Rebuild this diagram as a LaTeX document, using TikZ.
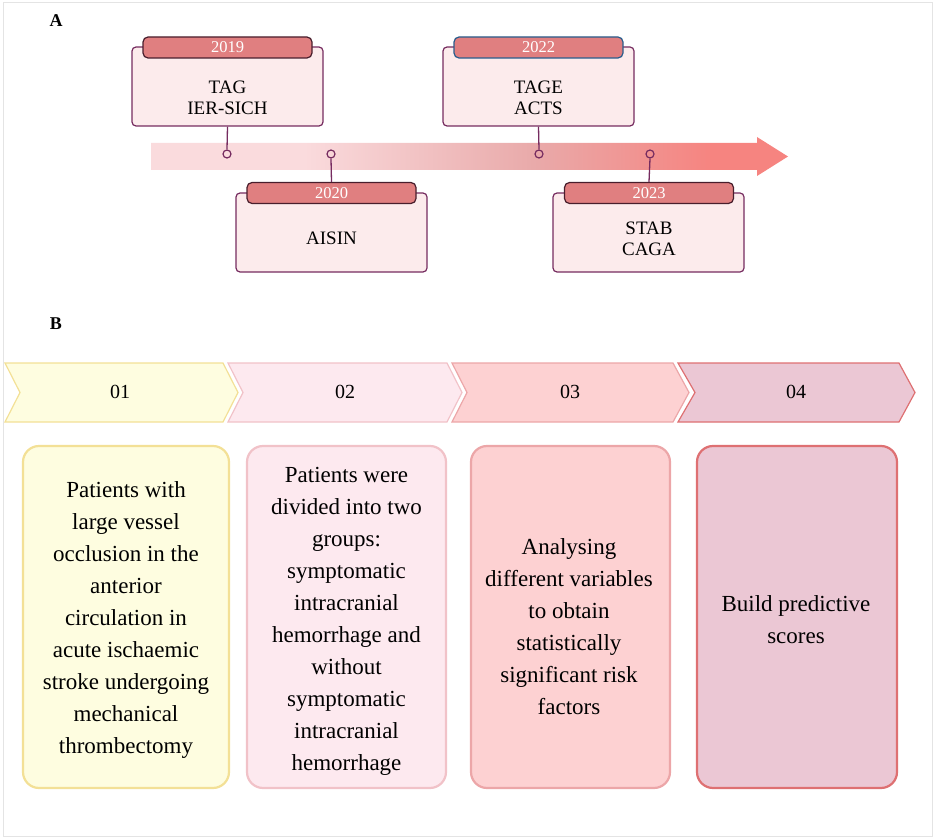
\documentclass[tikz,border=0pt]{standalone}
\usepackage{fontspec}
\setmainfont{Liberation Serif}
\definecolor{frame}{RGB}{228,228,228}
\definecolor{bandA}{RGB}{250,219,221}
\definecolor{bandB}{RGB}{233,170,170}
\definecolor{bandC}{RGB}{246,132,128}
\definecolor{tlborder}{RGB}{118,44,96}
\definecolor{tlfill}{RGB}{252,235,236}
\definecolor{tabfill}{RGB}{224,127,128}
\definecolor{tabborder}{RGB}{72,30,44}
\definecolor{tabblue}{RGB}{40,92,140}
\definecolor{fillA}{RGB}{254,253,224}
\definecolor{drawA}{RGB}{243,224,150}
\definecolor{fillB}{RGB}{253,233,239}
\definecolor{drawB}{RGB}{241,194,200}
\definecolor{fillC}{RGB}{253,209,210}
\definecolor{drawC}{RGB}{236,166,168}
\definecolor{fillD}{RGB}{235,199,212}
\definecolor{drawD}{RGB}{222,112,114}
\pgfdeclarehorizontalshading{bandshade}{100bp}{color(0bp)=(bandA); color(37bp)=(bandA); color(55bp)=(bandB); color(69bp)=(bandC); color(100bp)=(bandC)}
\begin{document}
\begin{tikzpicture}[x=1pt,y=-1pt,
  tlbox/.style={draw=tlborder, fill=tlfill, rounded corners=4pt, line width=1.2pt, minimum width=191pt, minimum height=79pt, inner sep=0pt},
  tab/.style={draw=tabborder, fill=tabfill, rounded corners=5pt, line width=1.2pt, minimum width=169pt, minimum height=21pt, inner sep=0pt, text=white, font=\fontsize{16.5}{18}\selectfont},
  tltext/.style={align=center, inner sep=0pt, font=\fontsize{19}{21}\selectfont},
  dot/.style={circle, draw=tlborder, line width=1.2pt, minimum size=8pt, inner sep=0pt},
  conn/.style={draw=tlborder, line width=1.3pt},
  chevtext/.style={inner sep=0pt, font=\fontsize{20}{22}\selectfont},
  card/.style={rounded corners=16pt, line width=2.2pt, minimum width=200pt, minimum height=342pt, inner sep=0pt},
  cardtext/.style={align=center, inner sep=0pt, font=\fontsize{23}{32}\selectfont},
  panel/.style={inner sep=0pt, font=\fontsize{18}{20}\selectfont\bfseries}]
\useasboundingbox (0,0) rectangle (935,840);
\draw[frame, line width=1pt] (3,3) rectangle (932,836);
\node[panel] (labA) at (56,21) {A};
\node[panel] (labB) at (56,324) {B};
% band arrow
\shade[shading=bandshade] (151,143) -- (757,143) -- (757,137) -- (788,156.5) -- (757,176) -- (757,170) -- (151,170) -- cycle;
% dots
\node[dot] (d19) at (227,154) {};
\node[dot] (d20) at (331,154) {};
\node[dot] (d22) at (539,154) {};
\node[dot] (d23) at (650,154) {};
% boxes
\node[tlbox] (b19) at (227.5,86.5) {};
\node[tab] (t19) at (227.5,47.5) {2019};
\node[tltext] (x19) at (227.5,97.5) {TAG\\IER-SICH};
\node[tlbox] (b22) at (538.5,86.5) {};
\node[tab, draw=tabblue] (t22) at (538.5,47.5) {2022};
\node[tltext] (x22) at (538.5,97.5) {TAGE\\ACTS};
\node[tlbox] (b20) at (331.5,232.5) {};
\node[tab] (t20) at (331.5,193) {2020};
\node[tltext] (x20) at (331.5,238) {AISIN};
\node[tlbox] (b23) at (648.5,232.5) {};
\node[tab] (t23) at (649,193) {2023};
\node[tltext] (x23) at (649,239) {STAB\\CAGA};
\draw[conn] (b19.south) -- (d19.north);
\draw[conn] (b22.south) -- (d22.north);
\draw[conn] (t20.north) -- (d20.south);
\draw[conn] (t23.north) -- (d23.south);
% chevrons
\draw[fill=fillA, draw=drawA, line width=1.2pt] (5,363) -- (223,363) -- (238,392.5) -- (223,422) -- (5,422) -- (20,392.5) -- cycle;
\draw[fill=fillB, draw=drawB, line width=1.2pt] (228,363) -- (447,363) -- (462,392.5) -- (447,422) -- (228,422) -- (243,392.5) -- cycle;
\draw[fill=fillC, draw=drawC, line width=1.2pt] (452,363) -- (673,363) -- (689,392.5) -- (673,422) -- (452,422) -- (467,392.5) -- cycle;
\draw[fill=fillD, draw=drawD, line width=1.2pt] (678,363) -- (899,363) -- (915,392.5) -- (899,422) -- (678,422) -- (695,392.5) -- cycle;
\node[chevtext] (s1) at (120,392) {01};
\node[chevtext] (s2) at (345,392) {02};
\node[chevtext] (s3) at (570,392) {03};
\node[chevtext] (s4) at (796,392) {04};
% cards
\node[card, fill=fillA, draw=drawA, minimum width=206pt] (c1) at (126,617) {};
\node[card, fill=fillB, draw=drawB, minimum width=199pt] (c2) at (346.5,617) {};
\node[card, fill=fillC, draw=drawC, minimum width=199pt] (c3) at (570.5,617) {};
\node[card, fill=fillD, draw=drawD, minimum width=200pt] (c4) at (797,617) {};
\node[cardtext] (ct1) at (126,620) {Patients with\\large vessel\\occlusion in the\\anterior\\circulation in\\acute ischaemic\\stroke undergoing\\mechanical\\thrombectomy};
\node[cardtext] (ct2) at (346.5,621.5) {Patients were\\divided into two\\groups:\\symptomatic\\intracranial\\hemorrhage and\\without\\symptomatic\\intracranial\\hemorrhage};
\node[cardtext] (ct3) at (569,627) {Analysing\\different variables\\to obtain\\statistically\\significant risk\\factors};
\node[cardtext] (ct4) at (796,619.5) {Build predictive\\scores};
\end{tikzpicture}
\end{document}
